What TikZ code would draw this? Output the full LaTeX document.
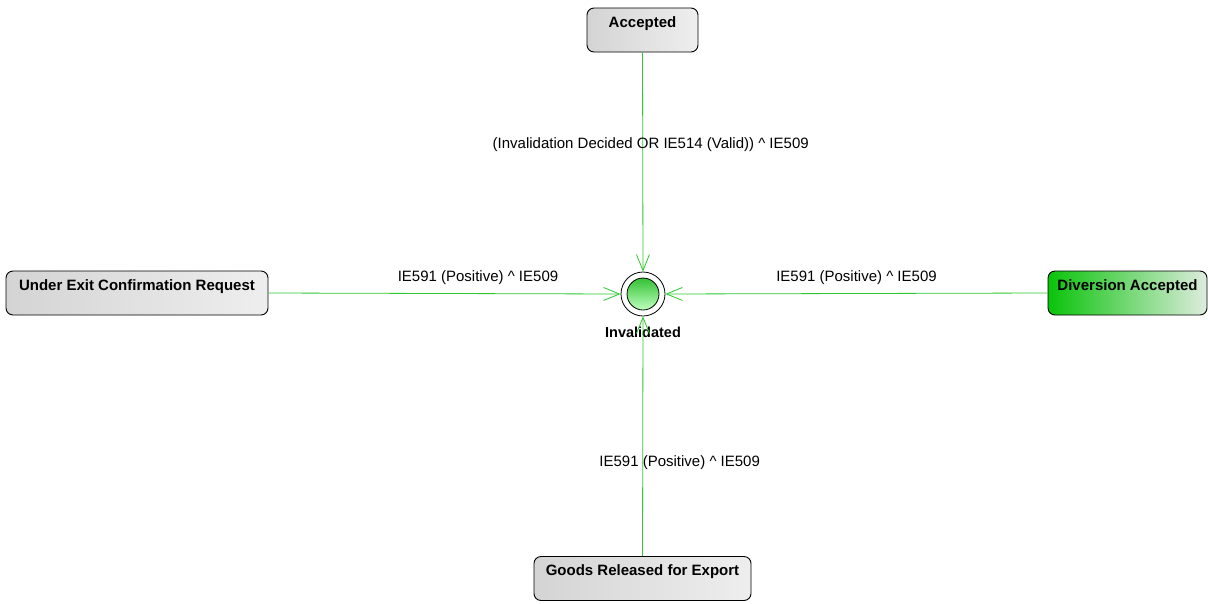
\documentclass[tikz,border=0pt]{standalone}
\usepackage{fontspec}
\setmainfont{Liberation Sans}
\usepackage{xcolor}
\usetikzlibrary{arrows.meta,positioning,calc}

\definecolor{edgegreen}{RGB}{45,200,45}
\definecolor{boxgrayL}{RGB}{212,212,212}
\definecolor{boxgrayR}{RGB}{238,238,238}
\definecolor{divgreenL}{RGB}{10,195,10}
\definecolor{divgreenR}{RGB}{222,236,222}

\begin{document}
\begin{tikzpicture}[
  x=1pt, y=-1pt,
  font=\fontsize{15}{17}\selectfont,
  state/.style={draw, rounded corners=7pt, line width=0.9pt,
                left color=boxgrayL, right color=boxgrayR,
                font=\fontsize{15}{17}\selectfont\bfseries,
                text height=13pt, text depth=19pt, inner ysep=6pt},
  final/.style={circle, draw, line width=0.8pt, fill=white, minimum size=44pt, inner sep=0pt},
  core/.style={circle, draw, line width=0.8pt, minimum size=32pt, inner sep=0pt,
               shading angle=135, top color=green!70!black!80, bottom color=green!25!white},
  trans/.style={-{Straight Barb[length=16pt,width=13pt]}, edgegreen, line width=0.8pt},
  lbl/.style={text=black, inner sep=1pt},
]
\useasboundingbox (0,0) rectangle (1208,603);

%% --- final state ---
\node[final] (inv) at (643,294) {};
\node[core] (invcore) at (inv.center) {};
\node[font=\fontsize{14.5}{17}\selectfont\bfseries, anchor=north, inner sep=1pt] (invlbl) at (643,326) {Invalidated};

%% --- states ---
\node[state, minimum width=111pt] (acc) at (642.5,30) {Accepted};
\node[state, minimum width=262pt] (uecr) at (137,293) {Under Exit Confirmation Request};
\node[state, minimum width=159pt, left color=divgreenL, right color=divgreenR] (div) at (1127.5,293) {Diversion Accepted};
\node[state, minimum width=217pt] (grfe) at (642.5,578.5) {Goods Released for Export};

%% --- transitions ---
\draw[trans] (acc.south) -- (inv.north)
  node[lbl, pos=0.42, xshift=8pt] {(Invalidation Decided OR IE514 (Valid)) \^{} IE509};
\draw[trans] (uecr.east) -- (inv.west)
  node[lbl, pos=0.595, above=8pt] {IE591 (Positive) \^{} IE509};
\draw[trans] (div.west) -- (inv.east)
  node[lbl, pos=0.5, above=8pt] {IE591 (Positive) \^{} IE509};
\draw[trans] (grfe.north) -- (inv.south)
  node[lbl, pos=0.39, xshift=37pt] {IE591 (Positive) \^{} IE509};

\end{tikzpicture}
\end{document}
